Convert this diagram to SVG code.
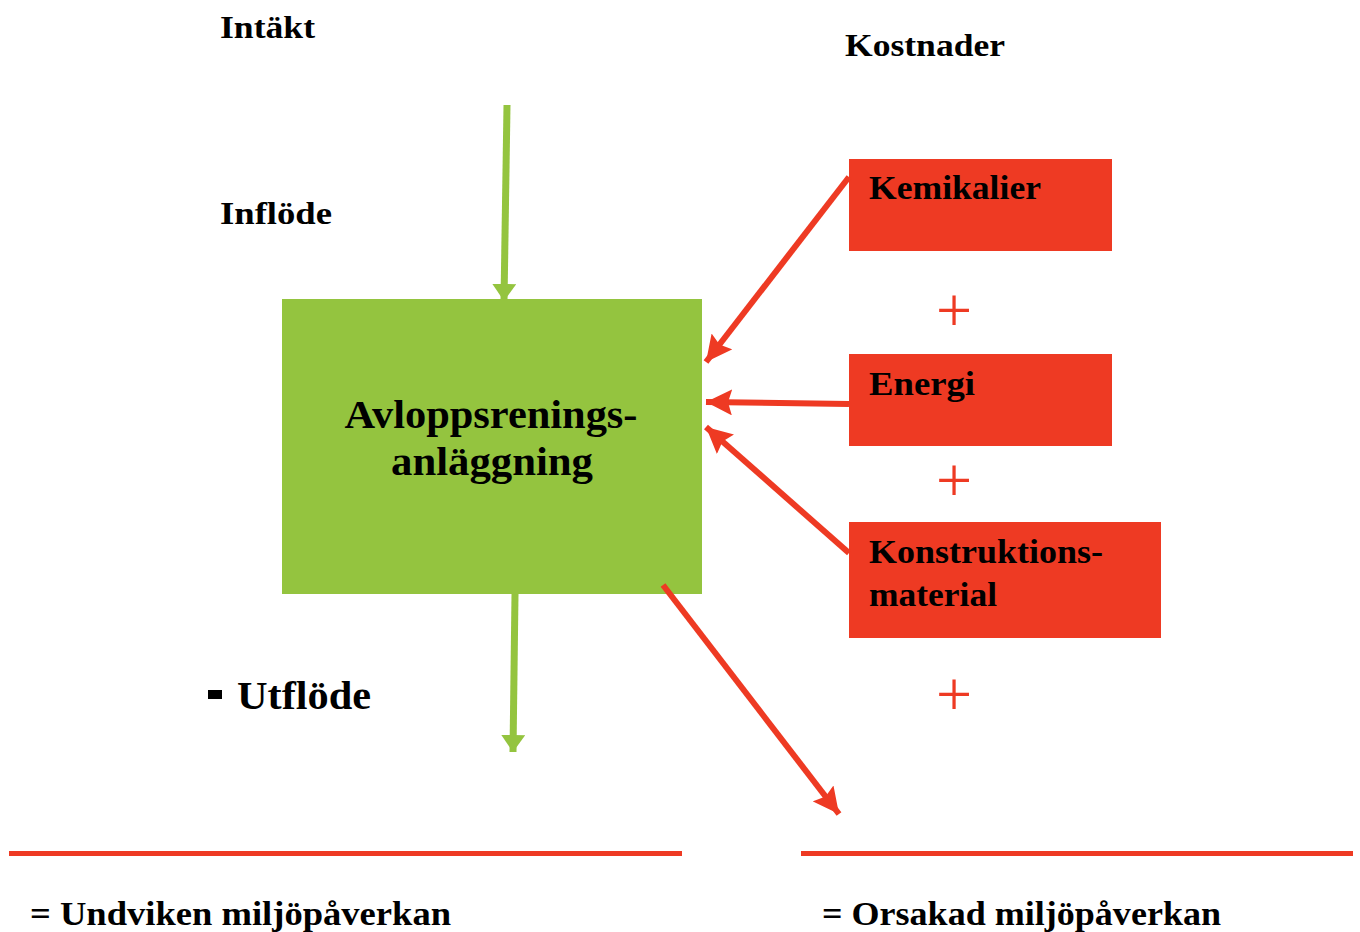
<svg xmlns="http://www.w3.org/2000/svg" width="1360" height="932" viewBox="0 0 1360 932">
<style>
.t{font-family:"Liberation Serif","Times New Roman",serif;font-weight:bold;fill:#000}
.r{fill:#EE3A23}
.g{fill:#94C43F}
.ra{stroke:#EE3A23;stroke-width:6;fill:none}
.ga{stroke:#94C43F;stroke-width:7;fill:none}
.plus{font-family:"Liberation Serif",serif;fill:#EE3A23;font-size:64px}
</style>
<defs>
<marker id="mr" markerUnits="userSpaceOnUse" markerWidth="26" markerHeight="26" viewBox="0 0 26 26" refX="26" refY="13" orient="auto">
<path d="M0,0 L26,13 L0,26 L4,13 z" fill="#EE3A23"/>
</marker>
<marker id="mg" markerUnits="userSpaceOnUse" markerWidth="17" markerHeight="24" viewBox="0 0 17 24" refX="17" refY="12" orient="auto">
<path d="M0,0 L17,12 L0,24 z" fill="#94C43F"/>
</marker>
</defs>
<rect width="1360" height="932" fill="#fff"/>

<g id="labels">
<text class="t" x="220" y="38" font-size="32" textLength="95" lengthAdjust="spacingAndGlyphs">Intäkt</text>
<text class="t" x="845" y="56" font-size="32" textLength="160" lengthAdjust="spacingAndGlyphs">Kostnader</text>
<text class="t" x="220" y="224" font-size="32" textLength="112" lengthAdjust="spacingAndGlyphs">Inflöde</text>
<g id="utflode">
<rect x="208" y="690" width="14" height="9" fill="#000"/>
<text class="t" x="237" y="709" font-size="40" textLength="134" lengthAdjust="spacingAndGlyphs">Utflöde</text>
</g>
<text class="plus" x="954" y="332" text-anchor="middle">+</text>
<text class="plus" x="954" y="502" text-anchor="middle">+</text>
<text class="plus" x="954" y="716" text-anchor="middle">+</text>
</g>

<g id="plant">
<rect class="g" x="282" y="299" width="420" height="295"/>
<text class="t" x="491" y="428" font-size="40" text-anchor="middle" textLength="293" lengthAdjust="spacingAndGlyphs">Avloppsrenings-</text>
<text class="t" x="492" y="475" font-size="40" text-anchor="middle" textLength="202" lengthAdjust="spacingAndGlyphs">anläggning</text>
</g>

<g id="kemikalier">
<rect class="r" x="849" y="159" width="263" height="92"/>
<text class="t" x="869" y="199" font-size="33" textLength="172" lengthAdjust="spacingAndGlyphs">Kemikalier</text>
</g>
<g id="energi">
<rect class="r" x="849" y="354" width="263" height="92"/>
<text class="t" x="869" y="395" font-size="33" textLength="106" lengthAdjust="spacingAndGlyphs">Energi</text>
</g>
<g id="konstruktion">
<rect class="r" x="849" y="522" width="312" height="116"/>
<text class="t" x="869" y="563" font-size="33" textLength="234" lengthAdjust="spacingAndGlyphs">Konstruktions-</text>
<text class="t" x="869" y="606" font-size="33" textLength="128" lengthAdjust="spacingAndGlyphs">material</text>
</g>

<g id="connectors">
<line class="ga" x1="507" y1="105" x2="504" y2="301" marker-end="url(#mg)"/>
<line class="ga" x1="515" y1="594" x2="513" y2="752" marker-end="url(#mg)"/>
<line class="ra" x1="849" y1="177" x2="706" y2="362" marker-end="url(#mr)"/>
<line class="ra" x1="849" y1="404" x2="706" y2="402" marker-end="url(#mr)"/>
<line class="ra" x1="849" y1="553" x2="706" y2="427" marker-end="url(#mr)"/>
<line class="ra" x1="663" y1="585" x2="839" y2="814" marker-end="url(#mr)"/>
</g>

<g id="totals">
<rect class="r" x="9" y="851" width="673" height="5"/>
<rect class="r" x="801" y="851" width="552" height="5"/>
<text class="t" x="30" y="925" font-size="34" textLength="421" lengthAdjust="spacingAndGlyphs">= Undviken miljöpåverkan</text>
<text class="t" x="822" y="925" font-size="34" textLength="399" lengthAdjust="spacingAndGlyphs">= Orsakad miljöpåverkan</text>
</g>
</svg>
